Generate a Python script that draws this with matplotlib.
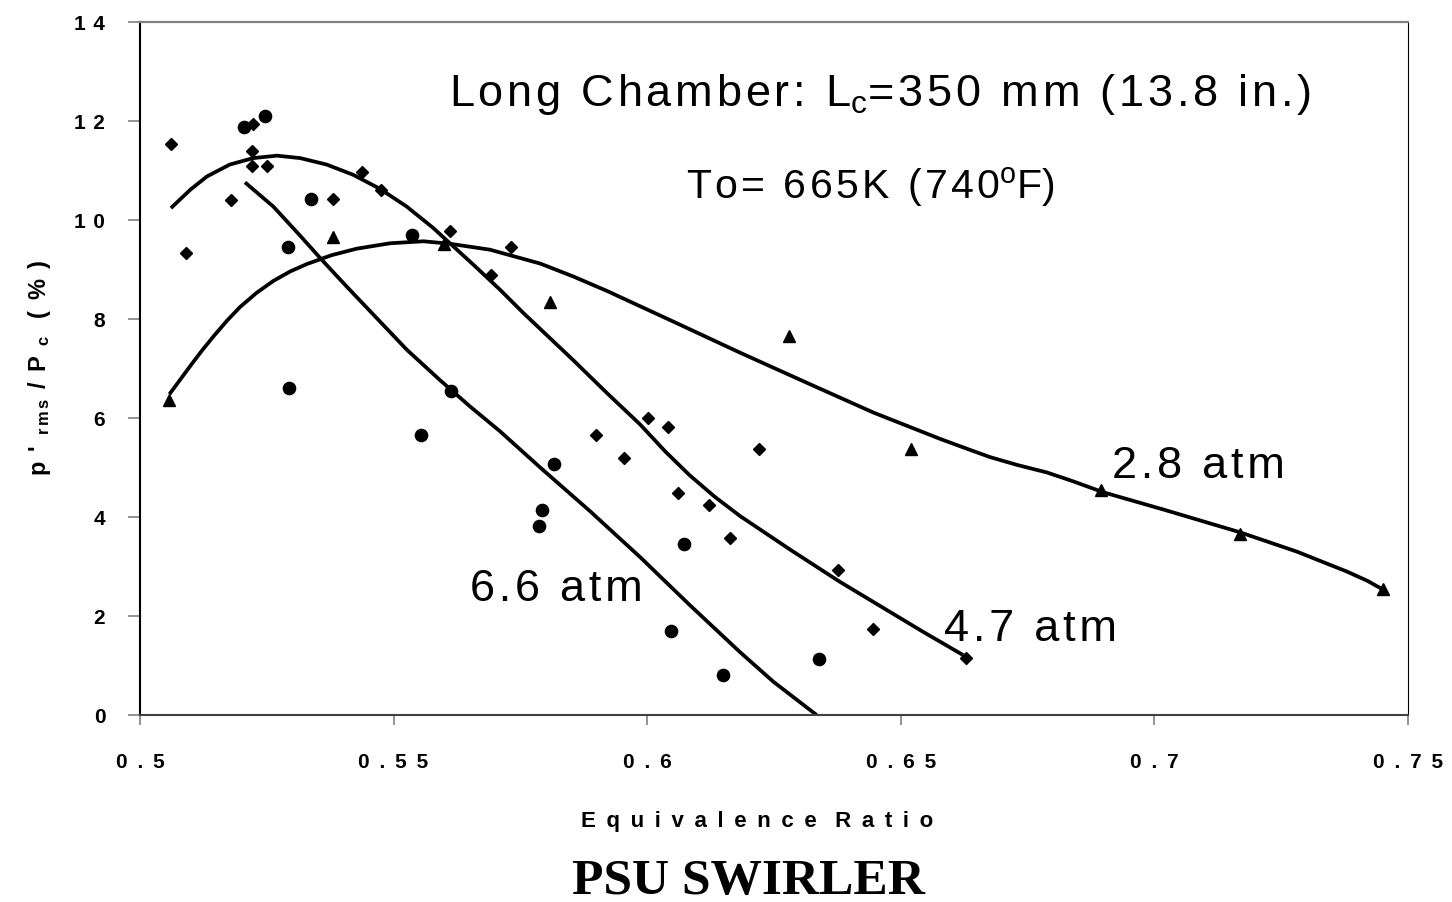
import matplotlib
matplotlib.use("Agg")
import matplotlib.pyplot as plt

plt.rcParams['font.family'] = ['Liberation Sans', 'DejaVu Sans']
plt.rcParams['mathtext.fontset'] = 'custom'
plt.rcParams['mathtext.rm'] = 'Liberation Sans'
plt.rcParams['mathtext.it'] = 'Liberation Sans'
plt.rcParams['mathtext.bf'] = 'Liberation Sans:bold'

# ---- data: 2.8 atm (triangles)
x_28 = [0.5057, 0.5381, 0.5599, 0.5808, 0.6280, 0.6520, 0.6895, 0.7169, 0.7450]
y_28 = [6.37, 9.66, 9.52, 8.35, 7.65, 5.37, 4.54, 3.65, 2.54]

# ---- data: 4.7 atm (diamonds)
x_47 = [0.5061, 0.5091, 0.5179, 0.5223, 0.5221, 0.5221, 0.5250, 0.5438, 0.5475,
        0.5381, 0.5611, 0.5731, 0.5692, 0.6002, 0.6041, 0.5899, 0.5954, 0.6061,
        0.6122, 0.6163, 0.6220, 0.6376, 0.6445, 0.6629]
y_47 = [11.54, 9.34, 10.41, 11.94, 11.40, 11.10, 11.10, 10.97, 10.61,
        10.43, 9.78, 9.46, 8.88, 5.99, 5.81, 5.65, 5.20, 4.48,
        4.24, 3.57, 5.37, 2.93, 1.73, 1.15]

# ---- data: 6.6 atm (circles)
x_66 = [0.5205, 0.5246, 0.5337, 0.5292, 0.5294, 0.5536, 0.5554, 0.5613, 0.5816,
        0.5793, 0.5787, 0.6073, 0.6046, 0.6150, 0.6339]
y_66 = [11.88, 12.10, 10.43, 9.46, 6.60, 9.70, 5.65, 6.54, 5.08,
        4.14, 3.81, 3.45, 1.69, 0.81, 1.13]

# ---- trend curves
cx_28 = [0.5058, 0.5099, 0.5122, 0.5145, 0.5171, 0.5197, 0.5230, 0.5263, 0.5296,
         0.5329, 0.5378, 0.5427, 0.5493, 0.5559, 0.5611, 0.5690, 0.5789, 0.5854,
         0.5920, 0.6051, 0.6183, 0.6315, 0.6446, 0.6577, 0.6630, 0.6676, 0.6730,
         0.6788, 0.6840, 0.6899, 0.7018, 0.7169, 0.7281, 0.7379, 0.7420, 0.7455]
cy_28 = [6.48, 7.05, 7.36, 7.65, 7.96, 8.24, 8.53, 8.77, 8.96,
         9.11, 9.29, 9.42, 9.53, 9.57, 9.52, 9.40, 9.12, 8.86,
         8.57, 7.95, 7.32, 6.71, 6.11, 5.58, 5.38, 5.21, 5.05,
         4.90, 4.72, 4.50, 4.15, 3.69, 3.30, 2.90, 2.71, 2.51]

cx_47 = [0.5061, 0.5099, 0.5132, 0.5177, 0.5223, 0.5270, 0.5316, 0.5368, 0.5421,
         0.5473, 0.5526, 0.5578, 0.5611, 0.5657, 0.5710, 0.5756, 0.5789, 0.5854,
         0.5920, 0.5986, 0.6035, 0.6084, 0.6133, 0.6183, 0.6282, 0.6380, 0.6479,
         0.6544, 0.6623]
cy_47 = [10.24, 10.61, 10.88, 11.12, 11.25, 11.30, 11.25, 11.12, 10.91,
         10.63, 10.27, 9.84, 9.53, 9.10, 8.59, 8.12, 7.80, 7.17,
         6.51, 5.87, 5.33, 4.84, 4.41, 4.02, 3.34, 2.69, 2.08,
         1.68, 1.21]

cx_66 = [0.5207, 0.5263, 0.5316, 0.5358, 0.5408, 0.5460, 0.5526, 0.5592, 0.5651,
         0.5710, 0.5789, 0.5887, 0.5986, 0.6084, 0.6183, 0.6249, 0.6334]
cy_66 = [10.76, 10.27, 9.68, 9.20, 8.65, 8.09, 7.38, 6.76, 6.23,
         5.73, 5.00, 4.12, 3.19, 2.22, 1.27, 0.67, 0.0]

x_ticks = [0.5, 0.55, 0.6, 0.65, 0.7, 0.75]
x_tick_labels = ["0.5", "0.55", "0.6", "0.65", "0.7", "0.75"]
y_ticks = [0, 2, 4, 6, 8, 10, 12, 14]
y_tick_labels = ["0", "2", "4", "6", "8", "10", "12", "14"]

HAIR = "\u200a"
THIN = "\u2009"


def spaced(s, sep):
    return sep.join(s)


def airy(s):
    # mimic the wide letter spacing of the original rendering
    return HAIR.join(s)


fig = plt.figure(figsize=(14.52, 9.03), dpi=100)
ax = fig.add_axes([0.09642, 0.20709, 0.87328, 0.76744])

for cx, cy in ((cx_28, cy_28), (cx_47, cy_47), (cx_66, cy_66)):
    ax.plot(cx, cy, color='black', lw=2.7, solid_joinstyle='round',
            solid_capstyle='butt')

ax.plot(x_28, y_28, linestyle='none', marker='^', ms=8.3, color='black', clip_on=False)
ax.plot(x_47, y_47, linestyle='none', marker='D', ms=5.8, color='black', clip_on=False)
ax.plot(x_66, y_66, linestyle='none', marker='o', ms=8.8, color='black', clip_on=False)

ax.set_xlim(0.5, 0.75)
ax.set_ylim(0, 14)
ax.set_xticks(x_ticks)
ax.set_xticklabels([spaced(t, " " + THIN) for t in x_tick_labels], fontsize=15,
                   fontweight='bold')
ax.set_yticks(y_ticks)
ax.set_yticklabels([spaced(t, " " + HAIR) for t in y_tick_labels], fontsize=15,
                   fontweight='bold')
ax.tick_params(axis='y', direction='out', length=8.5, width=1.2, color='#808080', pad=16.5)
ax.tick_params(axis='x', direction='out', length=7, width=1.2, color='#808080', pad=20)

ax.spines['left'].set_color('black')
ax.spines['left'].set_linewidth(1.5)
ax.spines['bottom'].set_color('#404040')
ax.spines['bottom'].set_linewidth(1.5)
ax.spines['top'].set_color('#808080')
ax.spines['top'].set_linewidth(1.6)
ax.spines['right'].set_color('black')
ax.spines['right'].set_linewidth(0.8)

ax.text(0.6460, 12.55,
        airy("Long Chamber: L") + "$_{\\rm c}$" + airy("=350 mm (13.8 in.)"),
        fontsize=32.5, ha='center', va='center')
ax.text(0.6440, 10.68, airy("To= 665K (740") + "$^{\\rm o}$" + "F)",
        fontsize=29.5, ha='center', va='center')
ax.text(0.7086, 5.05, airy("2.8 atm"), fontsize=32.5, ha='center', va='center')
ax.text(0.6755, 1.75, airy("4.7 atm"), fontsize=32.5, ha='center', va='center')
ax.text(0.5820, 2.55, airy("6.6 atm"), fontsize=32.5, ha='center', va='center')

xlabel = (" " + THIN).join("Equivalence") + "   " + (" " + THIN).join("Ratio")
fig.text(0.5214, 0.0908, xlabel, fontsize=16, fontweight='bold',
         ha='center', va='center')
G = " " + HAIR + HAIR
ylabel = ("p" + G + "'" + G + "$_{\\mathbf{r\\,m\\,s}}$" + G + "/" + G + "P"
          + G + "$_{\\mathbf{c}}$" + " " + G + "(" + G + "%" + G + ")")
fig.text(0.0275, 0.5930, ylabel, fontsize=17, fontweight='bold',
         ha='center', va='center', rotation=90)
fig.text(0.5152, 0.0233, "PSU SWIRLER", fontsize=37, fontweight='bold',
         family=['Liberation Serif', 'DejaVu Serif'], ha='center', va='center')

fig.savefig("out.png", dpi=100)
